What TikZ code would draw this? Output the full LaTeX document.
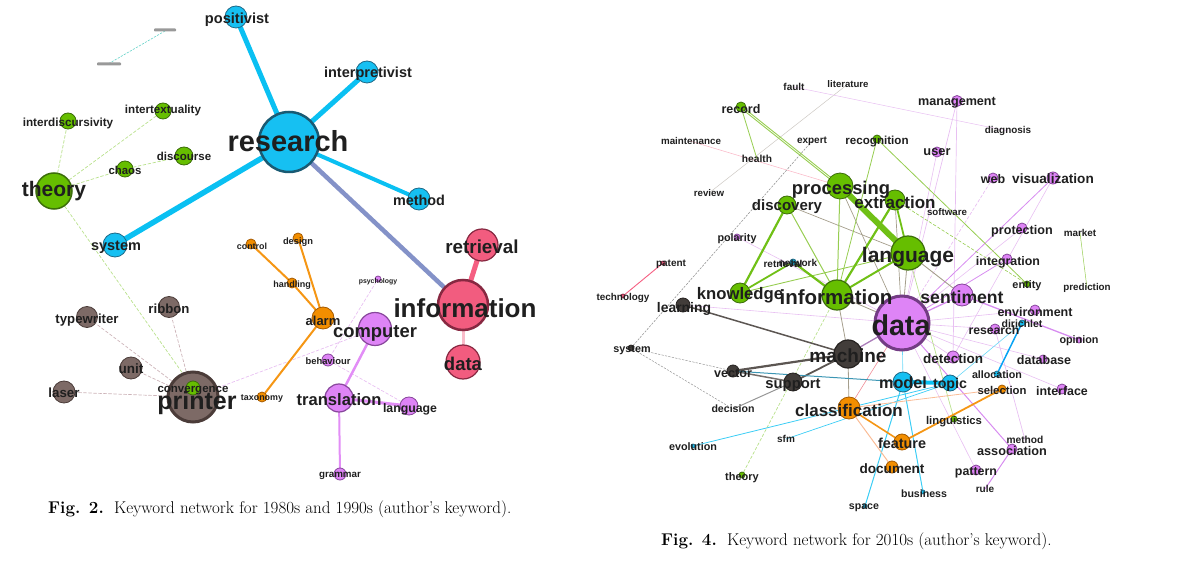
\documentclass[tikz,border=0pt]{standalone}
\usepackage{fontspec}
\newfontfamily\kwf{Liberation Sans}
\pgfdeclarelayer{bg}\pgfsetlayers{bg,main}
\definecolor{cyF}{RGB}{22,192,242}
\definecolor{cyD}{RGB}{30,105,135}
\definecolor{cyDD}{RGB}{25,90,115}
\definecolor{grF}{RGB}{102,190,0}
\definecolor{grD}{RGB}{60,110,10}
\definecolor{brF}{RGB}{125,106,102}
\definecolor{brD}{RGB}{75,60,57}
\definecolor{orF}{RGB}{242,142,0}
\definecolor{orD}{RGB}{165,90,0}
\definecolor{puF}{RGB}{222,132,246}
\definecolor{puD}{RGB}{135,70,155}
\definecolor{pkF}{RGB}{242,92,127}
\definecolor{pkD}{RGB}{135,40,65}
\definecolor{dkF}{RGB}{66,61,58}
\definecolor{dkD}{RGB}{38,34,32}
\definecolor{cyE}{RGB}{10,192,242}
\definecolor{slE}{RGB}{132,146,200}
\definecolor{pkE}{RGB}{245,95,130}
\definecolor{pkP}{RGB}{250,188,202}
\definecolor{grP}{RGB}{185,225,140}
\definecolor{brP}{RGB}{205,180,185}
\definecolor{puP}{RGB}{232,192,242}
\definecolor{orE}{RGB}{245,150,20}
\definecolor{puE}{RGB}{226,142,246}
\definecolor{gyP}{RGB}{205,200,195}
\definecolor{gyD}{RGB}{150,150,150}
\definecolor{grE}{RGB}{112,192,22}
\definecolor{grL}{RGB}{150,205,80}
\definecolor{dkE}{RGB}{92,86,82}
\definecolor{tlE}{RGB}{60,150,180}
\definecolor{orP}{RGB}{250,188,150}
\definecolor{puM}{RGB}{215,140,240}
\definecolor{gbE}{RGB}{165,158,140}
\definecolor{rdP}{RGB}{240,140,150}
\definecolor{teE}{RGB}{100,210,200}
\newcommand\kwc[5]{\node[kw=#4,#5] (#1) at (#2,#3) {};}
\newcommand\kwl[5]{\node[lab=#4] (l#1) at (#2,#3) {#5};}
\begin{document}
\begin{tikzpicture}[x=1pt,y=-1pt,
  kw/.style={circle,inner sep=0pt,minimum size=#1,line width=0.8pt},
  lab/.style={font={\kwf\bfseries\fontsize{#1}{#1}\selectfont},inner sep=0pt,text=black!88},
  cy/.style={fill=cyF,draw=cyD},
  gr/.style={fill=grF,draw=grD},
  br/.style={fill=brF,draw=brD},
  orn/.style={fill=orF,draw=orD},
  pu/.style={fill=puF,draw=puD},
  pk/.style={fill=pkF,draw=pkD},
  dk/.style={fill=dkF,draw=dkD},
  ed/.style={line cap=round},
  pd/.style={dash pattern=on 3pt off 2pt,line width=0.7pt},
  figcap/.style={font=\fontsize{17}{20}\selectfont,inner sep=0pt,anchor=west}]
\useasboundingbox (0,0) rectangle (1178,561);
% ---------------- Fig. 2 ----------------
\kwc{a-positivist}{236}{17}{22}{cy}
\kwc{a-interpretivist}{367}{72}{22}{cy}
\kwc{a-research}{289}{142}{60}{cy,line width=2.5pt,draw=cyDD}
\kwc{a-method}{419}{199}{22}{cy}
\kwc{a-system}{115}{245}{24}{cy}
\kwc{a-theory}{54}{191}{36}{gr,line width=1.5pt}
\kwc{a-interdiscursivity}{68}{121}{16}{gr}
\kwc{a-intertextuality}{163}{111}{16}{gr}
\kwc{a-chaos}{125}{169}{16}{gr}
\kwc{a-discourse}{184}{156}{18}{gr}
\kwc{a-printer}{193}{397}{50}{br,line width=3pt}
\kwc{a-convergence}{193}{388}{14}{gr}
\kwc{a-typewriter}{87}{317}{21}{br}
\kwc{a-ribbon}{169}{307}{21}{br}
\kwc{a-unit}{131}{368}{22}{br}
\kwc{a-laser}{64}{392}{22}{br}
\kwc{a-control}{251}{244}{10}{orn}
\kwc{a-design}{298}{238}{10}{orn}
\kwc{a-handling}{292}{283}{10}{orn}
\kwc{a-alarm}{323}{318}{22}{orn}
\kwc{a-taxonomy}{262}{397}{10}{orn}
\kwc{a-psychology}{378}{279}{6}{pu}
\kwc{a-computer}{375}{329}{33}{pu,line width=1.2pt}
\kwc{a-behaviour}{328}{360}{12}{pu}
\kwc{a-translation}{339}{398}{28}{pu,line width=1.2pt}
\kwc{a-language}{409}{406}{18}{pu}
\kwc{a-grammar}{340}{474}{12}{pu}
\kwc{a-information}{463}{305}{50}{pk,line width=2.5pt}
\kwc{a-retrieval}{482}{245}{32}{pk,line width=1.2pt}
\kwc{a-data}{463}{362}{34}{pk,line width=1.2pt}
\coordinate (a-t1) at (165,31);
\coordinate (a-t2) at (108,64);
\fill[black!40,rounded corners=0.8pt] (154,28.5) rectangle (176,31.5);
\fill[black!40,rounded corners=0.8pt] (97,62.5) rectangle (121,65.5);
\kwl{a-positivist}{237}{20}{14.6}{positivist}
\kwl{a-interpretivist}{368}{74}{14.5}{interpretivist}
\kwl{a-research}{288}{141}{29}{research}
\kwl{a-method}{419}{200}{14.4}{method}
\kwl{a-system}{116}{247}{14.5}{system}
\kwl{a-theory}{54}{191}{21}{theory}
\kwl{a-interdiscursivity}{68}{123}{11.7}{interdiscursivity}
\kwl{a-intertextuality}{163}{111}{11.6}{intertextuality}
\kwl{a-chaos}{125}{170}{11.4}{chaos}
\kwl{a-discourse}{184}{156}{11.5}{discourse}
\kwl{a-convergence}{193}{391}{11.5}{convergence}
\kwl{a-printer}{197}{403}{25}{printer}
\kwl{a-typewriter}{87}{320}{13.2}{typewriter}
\kwl{a-ribbon}{169}{309}{13.2}{ribbon}
\kwl{a-unit}{131}{369}{13.5}{unit}
\kwl{a-laser}{64}{393}{13.3}{laser}
\kwl{a-control}{252}{246}{8.9}{control}
\kwl{a-design}{298}{242}{9.3}{design}
\kwl{a-handling}{292}{285}{9}{handling}
\kwl{a-alarm}{323}{321}{13}{alarm}
\kwl{a-taxonomy}{262}{399}{8.9}{taxonomy}
\kwl{a-psychology}{378}{282}{6.9}{psychology}
\kwl{a-computer}{375}{333}{18.4}{computer}
\kwl{a-behaviour}{328}{361}{9.4}{behaviour}
\kwl{a-translation}{339}{400}{16.6}{translation}
\kwl{a-language}{410}{409}{12.3}{language}
\kwl{a-grammar}{340}{476}{9.8}{grammar}
\kwl{a-information}{465}{308}{26}{information}
\kwl{a-retrieval}{482}{247}{18.8}{retrieval}
\kwl{a-data}{463}{364}{18.5}{data}
% ---------------- Fig. 4 ----------------
\kwc{b-record}{741}{107}{10}{gr}
\kwc{b-recognition}{877}{139}{8}{gr}
\kwc{b-processing}{840}{186}{26}{gr}
\kwc{b-extraction}{895}{200}{20}{gr}
\kwc{b-discovery}{787}{205}{18}{gr}
\kwc{b-language}{908}{253}{34}{gr,line width=1.2pt}
\kwc{b-information}{837}{295}{30}{gr,line width=1.2pt}
\kwc{b-knowledge}{740}{293}{20}{gr}
\kwc{b-data}{902}{323}{54}{pu,line width=3pt,draw=puD!85!black}
\kwc{b-sentiment}{962}{295}{22}{pu}
\kwc{b-machine}{848}{354}{28}{dk,line width=1.2pt}
\kwc{b-support}{793}{382}{18}{dk}
\kwc{b-vector}{733}{371}{12}{dk}
\kwc{b-learning}{683}{305}{14}{dk}
\kwc{b-model}{903}{382}{20}{cy}
\kwc{b-topic}{950}{383}{16}{cy}
\kwc{b-classification}{849}{408}{22}{orn}
\kwc{b-feature}{902}{442}{16}{orn}
\kwc{b-document}{892}{467}{12}{orn}
\kwc{b-detection}{953}{357}{12}{pu}
\kwc{b-management}{957}{101}{11}{pu}
\kwc{b-user}{937}{152}{10}{pu}
\kwc{b-web}{993}{178}{10}{pu}
\kwc{b-visualization}{1053}{178}{12}{pu}
\kwc{b-protection}{1022}{228}{10}{pu}
\kwc{b-integration}{1007}{259}{10}{pu}
\kwc{b-entity}{1027}{284}{6}{gr}
\kwc{b-environment}{1035}{310}{10}{pu}
\kwc{b-research}{995}{329}{10}{pu}
\kwc{b-dirichlet}{1022}{323}{6}{cy}
\kwc{b-opinion}{1079}{340}{6}{pu}
\kwc{b-database}{1043}{359}{8}{pu}
\kwc{b-allocation}{997}{374}{6}{cy}
\kwc{b-selection}{1002}{389}{8}{orn}
\kwc{b-interface}{1062}{389}{10}{pu}
\kwc{b-linguistics}{954}{419}{6}{gr}
\kwc{b-association}{1012}{449}{10}{pu}
\kwc{b-pattern}{976}{470}{10}{pu}
\kwc{b-polarity}{737}{237}{6}{pu}
\kwc{b-space}{865}{506}{4}{cy}
\kwc{b-business}{923}{492}{4}{cy}
\kwc{b-evolution}{693}{446}{4}{cy}
\kwc{b-theory}{742}{475}{6}{gr}
\kwc{b-system}{631}{348}{6}{dk}
\kwc{b-technology}{623}{296}{4}{pk}
\kwc{b-patent}{663}{263}{4}{pk}
\kwc{b-retrieval}{793}{262}{6}{cy}
\coordinate (b-fault) at (794,87);
\coordinate (b-literature) at (848,84);
\coordinate (b-maintenance) at (690,141);
\coordinate (b-expert) at (812,141);
\coordinate (b-health) at (757,159);
\coordinate (b-review) at (709,193);
\coordinate (b-diagnosis) at (1008,131);
\coordinate (b-software) at (947,212);
\coordinate (b-market) at (1080,233);
\coordinate (b-prediction) at (1087,288);
\coordinate (b-method) at (1025,440);
\coordinate (b-rule) at (985,489);
\coordinate (b-decision) at (733,409);
\coordinate (b-sfm) at (786,439);
\coordinate (b-network) at (798,263);
\kwl{b-fault}{794}{87}{10}{fault}
\kwl{b-literature}{848}{84}{9.6}{literature}
\kwl{b-record}{741}{109}{12.5}{record}
\kwl{b-maintenance}{691}{141}{9.8}{maintenance}
\kwl{b-expert}{812}{141}{10}{expert}
\kwl{b-recognition}{877}{142}{11.6}{recognition}
\kwl{b-health}{757}{159}{10.2}{health}
\kwl{b-review}{709}{193}{9.7}{review}
\kwl{b-processing}{841}{190}{18.4}{processing}
\kwl{b-discovery}{787}{207}{15}{discovery}
\kwl{b-extraction}{895}{202}{17}{extraction}
\kwl{b-polarity}{737}{239}{10.8}{polarity}
\kwl{b-patent}{671}{264}{10}{patent}
\kwl{b-retrieval}{783}{264}{10}{retrieval}
\kwl{b-network}{798}{263}{10}{network}
\kwl{b-technology}{623}{298}{9.9}{technology}
\kwl{b-knowledge}{740}{295}{16.7}{knowledge}
\kwl{b-information}{836}{297}{20.5}{information}
\kwl{b-learning}{684}{309}{13.9}{learning}
\kwl{b-system}{632}{350}{10.8}{system}
\kwl{b-machine}{848}{356}{19}{machine}
\kwl{b-vector}{733}{373}{12.6}{vector}
\kwl{b-support}{793}{385}{14.8}{support}
\kwl{b-decision}{733}{409}{10.6}{decision}
\kwl{b-classification}{849}{410}{17}{classification}
\kwl{b-evolution}{693}{447}{10.8}{evolution}
\kwl{b-sfm}{786}{439}{10}{sfm}
\kwl{b-theory}{742}{478}{11}{theory}
\kwl{b-space}{864}{508}{10.6}{space}
\kwl{b-management}{957}{103}{12.6}{management}
\kwl{b-diagnosis}{1008}{131}{9.9}{diagnosis}
\kwl{b-user}{937}{152}{12.8}{user}
\kwl{b-web}{993}{179}{12.5}{web}
\kwl{b-visualization}{1053}{179}{13.6}{visualization}
\kwl{b-software}{947}{212}{9.7}{software}
\kwl{b-protection}{1022}{231}{12.6}{protection}
\kwl{b-market}{1080}{233}{9.9}{market}
\kwl{b-language}{908}{257}{21}{language}
\kwl{b-integration}{1008}{262}{12.4}{integration}
\kwl{b-entity}{1027}{286}{10.9}{entity}
\kwl{b-prediction}{1087}{288}{9.8}{prediction}
\kwl{b-sentiment}{962}{297}{17.6}{sentiment}
\kwl{b-environment}{1035}{312}{12.5}{environment}
\kwl{b-dirichlet}{1022}{324}{10.5}{dirichlet}
\kwl{b-data}{901}{325}{28.7}{data}
\kwl{b-research}{994}{330}{12.2}{research}
\kwl{b-opinion}{1079}{341}{10.8}{opinion}
\kwl{b-detection}{953}{359}{13.5}{detection}
\kwl{b-database}{1044}{360}{12.5}{database}
\kwl{b-allocation}{997}{375}{10.7}{allocation}
\kwl{b-model}{903}{383}{16.2}{model}
\kwl{b-topic}{950}{385}{14.2}{topic}
\kwl{b-selection}{1002}{390}{11.3}{selection}
\kwl{b-interface}{1062}{391}{12.4}{interface}
\kwl{b-linguistics}{954}{422}{11.3}{linguistics}
\kwl{b-method}{1025}{440}{10.2}{method}
\kwl{b-feature}{902}{443}{14.4}{feature}
\kwl{b-association}{1012}{451}{12.7}{association}
\kwl{b-document}{892}{469}{13.6}{document}
\kwl{b-pattern}{976}{473}{12.4}{pattern}
\kwl{b-rule}{985}{489}{10}{rule}
\kwl{b-business}{924}{494}{10.6}{business}
% captions
\node[figcap] (cap2) at (48,509) {\textbf{Fig. 2.}\ \ Keyword network for 1980s and 1990s (author’s keyword).};
\node[figcap] (cap4) at (661,541) {\textbf{Fig. 4.}\ \ Keyword network for 2010s (author’s keyword).};
% ---------------- edges ----------------
\begin{pgfonlayer}{bg}
% fig 2
\draw[ed,teE,dash pattern=on 2pt off 1.5pt,line width=0.6pt] (a-t1) -- (a-t2);
\draw[ed,grP,pd] (a-theory) -- (a-interdiscursivity);
\draw[ed,grP,pd] (a-theory) -- (a-intertextuality);
\draw[ed,grP,pd] (a-theory) -- (a-chaos);
\draw[ed,grP,pd] (a-chaos) -- (a-discourse);
\draw[ed,grP,pd] (a-theory) -- (a-convergence);
\draw[ed,brP,pd] (a-printer) -- (a-typewriter);
\draw[ed,brP,pd] (a-printer) -- (a-ribbon);
\draw[ed,brP,pd] (a-printer) -- (a-unit);
\draw[ed,brP,pd] (a-printer) -- (a-laser);
\draw[ed,puP,pd] (a-printer) -- (a-computer);
\draw[ed,puP,pd] (a-psychology) -- (a-behaviour);
\draw[ed,puP,pd] (a-behaviour) -- (a-language);
\draw[ed,cyE,line width=5pt] (a-research) -- (a-positivist);
\draw[ed,cyE,line width=5pt] (a-research) -- (a-interpretivist);
\draw[ed,cyE,line width=4pt] (a-research) -- (a-method);
\draw[ed,cyE,line width=5.5pt] (a-research) -- (a-system);
\draw[ed,slE,line width=4.5pt] (a-research) -- (a-information);
\draw[ed,pkE,line width=5pt] (a-information) -- (a-retrieval);
\draw[ed,pkP,line width=3pt] (a-information) -- (a-data);
\draw[ed,orE,line width=2pt] (a-control) -- (a-handling);
\draw[ed,orE,line width=2pt] (a-handling) -- (a-alarm);
\draw[ed,orE,line width=2pt] (a-design) -- (a-alarm);
\draw[ed,orE,line width=2pt] (a-alarm) -- (a-taxonomy);
\draw[ed,puE,line width=2.5pt] (a-computer) -- (a-translation);
\draw[ed,puE,line width=3pt] (a-translation) -- (a-language);
\draw[ed,puE,line width=2pt] (a-translation) -- (a-grammar);
% fig 4 faint
\draw[ed,gyP,line width=0.5pt] (b-review) -- (b-literature);
\draw[ed,puP,line width=0.5pt] (b-fault) -- (b-diagnosis);
\draw[ed,pkP,line width=0.6pt] (b-maintenance) -- (b-processing);
\draw[ed,gyD,dash pattern=on 2pt off 1.5pt,line width=0.6pt] (b-system) -- (b-expert);
\draw[ed,gyD,dash pattern=on 2pt off 1.5pt,line width=0.5pt] (b-system) -- (b-vector);
\draw[ed,gyD,dash pattern=on 2pt off 1.5pt,line width=0.5pt] (b-system) -- (b-decision);
\draw[ed,pkE,line width=0.9pt] (b-patent) -- (b-technology);
\draw[ed,grP,pd] (b-theory) -- (b-information);
\draw[ed,puP,line width=0.6pt] (b-polarity) -- (b-data);
\draw[ed,puP,line width=0.6pt] (b-learning) -- (b-data);
\draw[ed,puP,line width=0.7pt] (b-management) -- (b-data);
\draw[ed,puP,line width=0.7pt] (b-management) -- (b-detection);
\draw[ed,puP,line width=0.6pt] (b-user) -- (b-data);
\draw[ed,puP,pd] (b-web) -- (b-data);
\draw[ed,puM,line width=0.8pt] (b-visualization) -- (b-data);
\draw[ed,puP,line width=0.6pt] (b-visualization) -- (b-detection);
\draw[ed,puP,line width=0.6pt] (b-protection) -- (b-data);
\draw[ed,puM,line width=0.8pt] (b-integration) -- (b-data);
\draw[ed,puP,line width=0.6pt] (b-environment) -- (b-data);
\draw[ed,puP,line width=0.6pt] (b-research) -- (b-data);
\draw[ed,puP,line width=0.7pt] (b-research) -- (b-method);
\draw[ed,puP,line width=0.6pt] (b-database) -- (b-data);
\draw[ed,puP,line width=0.6pt] (b-interface) -- (b-data);
\draw[ed,puP,line width=0.6pt] (b-detection) -- (b-data);
\draw[ed,puP,line width=0.6pt] (b-pattern) -- (b-data);
\draw[ed,grL,line width=0.5pt] (b-market) -- (b-prediction);
\draw[ed,puM,line width=1.3pt] (b-sentiment) -- (b-opinion);
\draw[ed,puM,line width=1pt] (b-data) -- (b-association);
\draw[ed,puM,line width=1pt] (b-association) -- (b-rule);
\draw[ed,puD!70,line width=1.3pt] (b-data) -- (b-machine);
\draw[ed,puM,line width=1.3pt] (b-data) -- (b-sentiment);
\draw[ed,rdP,line width=0.6pt] (b-classification) -- (b-data);
\draw[ed,gbE,line width=0.8pt] (b-machine) -- (b-classification);
\draw[ed,gbE,line width=0.8pt] (b-machine) -- (b-information);
\draw[ed,gbE,line width=0.8pt] (b-information) -- (b-data);
\draw[ed,gbE,line width=0.8pt] (b-language) -- (b-data);
\draw[ed,gbE,line width=0.9pt] (b-language) -- (b-sentiment);
\draw[ed,gbE,line width=0.7pt] (b-processing) -- (b-data);
\draw[ed,gbE,line width=0.7pt] (b-extraction) -- (b-data);
\draw[ed,gbE,line width=0.7pt] (b-discovery) -- (b-language);
\draw[ed,grL,line width=1pt] (b-processing) -- (b-information);
\draw[ed,grL,line width=0.8pt] (b-recognition) -- (b-information);
\draw[ed,grL,line width=0.8pt] (b-recognition) -- (b-entity);
\draw[ed,grL,pd,line width=0.6pt] (b-extraction) -- (b-entity);
\draw[ed,grP,line width=0.7pt] (b-linguistics) -- (b-language);
\draw[ed,grL,line width=0.9pt] ([xshift=-1.5pt]b-record.center) -- ([xshift=-1.5pt]b-processing.center);
\draw[ed,grL,line width=0.9pt] ([xshift=1.5pt]b-record.center) -- ([xshift=1.5pt]b-processing.center);
\draw[ed,grL,line width=0.8pt] (b-record) -- (b-health);
\draw[ed,grL,line width=0.9pt] (b-knowledge) -- (b-language);
\draw[ed,grE,line width=1.8pt] (b-knowledge) -- (b-retrieval);
\draw[ed,grE,line width=2.2pt] (b-retrieval) -- (b-information);
\draw[ed,grE,line width=2.2pt] (b-discovery) -- (b-knowledge);
\draw[ed,grL,line width=1pt] (b-discovery) -- (b-information);
\draw[ed,grE,line width=2pt] (b-information) -- (b-language);
\draw[ed,grE,line width=2.2pt] (b-extraction) -- (b-information);
\draw[ed,grE,line width=1.8pt] (b-extraction) -- (b-language);
\draw[ed,grE,line width=6pt] (b-processing) -- (b-language);
\draw[ed,dkE,line width=1.5pt] (b-machine) -- (b-learning);
\draw[ed,dkE,line width=2.2pt] (b-machine) -- (b-vector);
\draw[ed,dkE,line width=1.8pt] (b-machine) -- (b-support);
\draw[ed,dkE!85,line width=1.5pt] (b-vector) -- (b-support);
\draw[ed,gyD,line width=1pt] (b-support) -- (b-decision);
\draw[ed,tlE,line width=1pt] (b-vector) -- (b-model);
\draw[ed,cyE!80,line width=0.8pt] (b-evolution) -- (b-topic);
\draw[ed,cyE!80,line width=0.7pt] (b-sfm) -- (b-topic);
\draw[ed,cyE!80,line width=1pt] (b-space) -- (b-model);
\draw[ed,cyE!80,line width=1pt] (b-business) -- (b-model);
\draw[ed,cyE!60,line width=0.6pt] (b-topic) -- (b-dirichlet);
\draw[ed,cyE!60,line width=0.6pt] (b-model) -- (b-data);
\draw[ed,cyE,line width=4pt] (b-model) -- (b-topic);
\draw[ed,cyE!85!blue,line width=1.5pt] (b-dirichlet) -- (b-allocation);
\draw[ed,orP,line width=1pt] (b-classification) -- (b-document);
\draw[ed,orP,line width=0.8pt] (b-classification) -- (b-selection);
\draw[ed,orE,line width=1.6pt] (b-classification) -- (b-feature);
\draw[ed,orE,line width=1.8pt] (b-feature) -- (b-selection);
\end{pgfonlayer}
\end{tikzpicture}
\end{document}
